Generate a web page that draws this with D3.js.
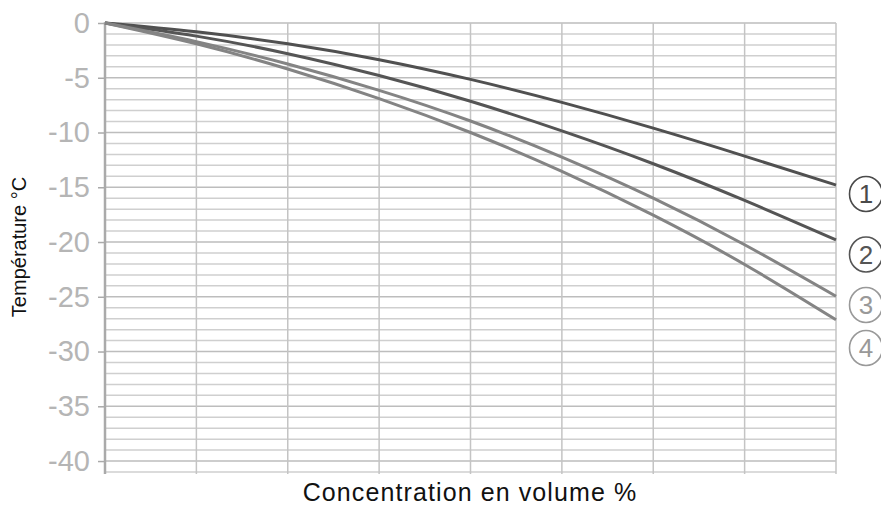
<!DOCTYPE html>
<html>
<head>
<meta charset="utf-8">
<script src="https://cdn.jsdelivr.net/npm/d3@7"></script>
<style>
  body { margin: 0; background: #fff; }
  text { font-family: "Liberation Sans", Arial, sans-serif; }
</style>
</head>
<body>
<script>
/* ------------------------------- chart data ------------------------------- */
const steps = [0, 1, 2, 3, 4, 5, 6, 7, 8]          // x grid positions (no labels shown)
const curve1 = [0, -0.8, -1.9, -3.35, -5.15, -7.25, -9.6, -12.15, -14.8]
const curve2 = [0, -1.2, -2.8, -4.8, -7.15, -9.85, -12.85, -16.2, -19.8]
const curve3 = [0, -1.7, -3.75, -6.15, -8.95, -12.25, -16.0, -20.25, -24.95]
const curve4 = [0, -1.9, -4.2, -6.9, -10.0, -13.55, -17.55, -22.05, -27.1]
const curveNames = ["1", "2", "3", "4"]
const yTicks = [0, -5, -10, -15, -20, -25, -30, -35, -40]

/* ------------------------------ document size ----------------------------- */
const width = 881, height = 508
const margin = { left: 105, right: 45, top: 23, bottom: 36 }

const svg = d3.select("body").append("svg")
    .attr("width", width)
    .attr("height", height)

const x = d3.scaleLinear().domain([0, 8]).range([margin.left, width - margin.right])
const y = d3.scaleLinear().domain([0, -41]).range([margin.top, height - margin.bottom])

/* ---------------------------------- grid ---------------------------------- */
const g = svg.append("g")

g.selectAll(".hgrid").data(d3.range(0, -42, -1)).enter().append("line")
    .attr("class", "hgrid")
    .attr("x1", x(0)).attr("x2", x(8))
    .attr("y1", d => y(d)).attr("y2", d => y(d))
    .attr("stroke", d => d % 5 === 0 ? "#bdbdbd" : "#cfcfcf")
    .attr("stroke-width", 1.5)

g.selectAll(".vgrid").data(steps.slice(1)).enter().append("line")
    .attr("class", "vgrid")
    .attr("x1", d => x(d)).attr("x2", d => x(d))
    .attr("y1", y(0)).attr("y2", y(-41) + 2)
    .attr("stroke", "#c4c4c4")
    .attr("stroke-width", 1.5)

/* --------------------------------- y axis --------------------------------- */
const yAxis = svg.append("g")
    .attr("transform", "translate(" + x(0) + ",0)")
    .call(d3.axisLeft(y).tickValues(yTicks).tickSize(7).tickPadding(8).tickFormat(d3.format("d")))

yAxis.select(".domain").attr("stroke", "#aaaaaa").attr("stroke-width", 2.5)
    .attr("d", "M0," + (y(0) - 1) + "V" + (y(-41) + 2))
yAxis.selectAll(".tick line").attr("stroke", "#aaaaaa").attr("stroke-width", 1.5)
yAxis.selectAll(".tick text")
    .attr("fill", "#b5b5b5")
    .style("font-size", "29px")
    .style("font-family", "'Liberation Sans', Arial, sans-serif")
    .text(d => d === 0 ? "0" : "-" + Math.abs(d))

/* --------------------------------- curves --------------------------------- */
const series = [
    { values: curve1, color: "#505050" },
    { values: curve2, color: "#555555" },
    { values: curve3, color: "#848484" },
    { values: curve4, color: "#848484" }
]

const line = d3.line()
    .x((d, i) => x(steps[i]))
    .y(d => y(d))
    .curve(d3.curveNatural)

svg.selectAll(".curve").data(series).enter().append("path")
    .attr("class", "curve")
    .attr("d", d => line(d.values))
    .attr("fill", "none")
    .attr("stroke", d => d.color)
    .attr("stroke-width", 3)

/* ---------------------------- circled labels ------------------------------ */
const labelY = [194, 254.5, 305, 348]
const labelColor = ["#4a4a4a", "#555555", "#999999", "#999999"]

const lab = svg.selectAll(".lab").data(curveNames).enter().append("g")
    .attr("class", "lab")
    .attr("transform", (d, i) => "translate(866," + labelY[i] + ")")

lab.append("ellipse")
    .attr("rx", 16.5).attr("ry", 17.5)
    .attr("fill", "none")
    .attr("stroke", (d, i) => labelColor[i])
    .attr("stroke-width", 1.6)

lab.append("text")
    .attr("text-anchor", "middle")
    .attr("dy", "0.36em")
    .attr("fill", (d, i) => labelColor[i])
    .style("font-size", "26px")
    .text(d => d)

/* ------------------------------ axis titles ------------------------------- */
svg.append("text")
    .attr("transform", "translate(26,247) rotate(-90)")
    .attr("text-anchor", "middle")
    .attr("fill", "#111")
    .style("font-size", "20px")
    .text("Température °C")

svg.append("text")
    .attr("x", 470).attr("y", 501)
    .attr("text-anchor", "middle")
    .attr("fill", "#111")
    .style("font-size", "25px")
    .style("letter-spacing", "1.1px")
    .text("Concentration en volume %")
</script>
</body>
</html>
